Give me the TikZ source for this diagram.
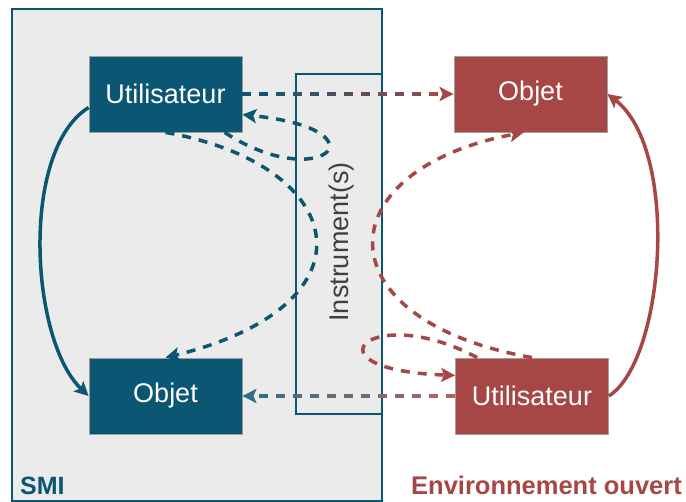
\documentclass[tikz,border=0pt]{standalone}
\usepackage{fontspec}
\setmainfont{Liberation Sans}
\usetikzlibrary{
    arrows.meta
}
\definecolor{smiteal}{HTML}{0B5673}
\definecolor{envred}{HTML}{A64645}
\definecolor{smigrey}{HTML}{EBEBEB}
\definecolor{labelgrey}{HTML}{404040}

\tikzset{
    smibox/.style={draw=gray!75, line width=0.8pt, fill=smiteal, text=white,
        minimum width=153pt, minimum height=76pt,
        font=\fontsize{27}{32}\selectfont},
    envbox/.style={smibox, fill=envred},
    frame/.style={draw=smiteal, line width=2.5pt},
    link/.style={line width=3.5pt, dash pattern=on 9pt off 8pt},
    loop/.style={line width=3.5pt}
}

\begin{document}
\begin{tikzpicture}[x=1pt, y=-1pt, >={Stealth[length=14pt, width=14pt, inset=3pt]}]

\useasboundingbox (0,0) rectangle (686,502);

% SMI frame
\draw[frame, fill=smigrey] (12,9) rectangle (382,501);
\node[anchor=base west, inner sep=0pt, text=smiteal,
      font=\bfseries\fontsize{25}{30}\selectfont] (smiLabel) at (20,495) {SMI};

% Instrument(s) frame
\draw[frame] (296,74) rectangle (382,414);
\node[rotate=90, text=labelgrey, font=\fontsize{27}{32}\selectfont]
      (instrLabel) at (342,242) {Instrument(s)};

% Open environment label
\node[anchor=base west, inner sep=0pt, text=envred,
      font=\bfseries\fontsize{25.5}{30}\selectfont] (envLabel) at (411,495) {Environnement ouvert};

% Boxes
\node[smibox] (userS) at (165.5,94) {Utilisateur};
\node[smibox] (objS) at (165.5,396) {Objet};
\node[envbox] (objE) at (530.5,94) {Objet};
\node[envbox] (userE) at (532,396) {Utilisateur};

% Solid loops
\draw[loop, smiteal, ->] (userS.190) .. controls (20,150) and (30,340) .. (objS.west);
\draw[loop, envred, ->] (userE.east) .. controls (665,360) and (680,150) .. (objE.east);

% Teal dashed links
\draw[link, smiteal, ->] (userS.-33) .. controls (320,195) and (390,130) .. (userS.-15);
\draw[link, smiteal, ->] (userS.south) .. controls (350,165) and (380,305) .. (objS.north);

% Red dashed links
\draw[link, envred, ->] (userE.145) .. controls (370,300) and (300,370) .. (userE.165);
\draw[link, envred, ->] (userE.north) .. controls (320,320) and (325,170) .. (objE.-100);

% Straight links, shaded from teal to red
\foreach \p [evaluate=\p as \pct using int(\p*100/7)] in {0,...,7} {
    \begin{scope}
        \clip (242+\p*27,78) rectangle ++(27,34);
        \draw[link, envred!\pct!smiteal, ->] (userS.east) -- (objE.west);
    \end{scope}
    \begin{scope}
        \clip (242+\p*27,380) rectangle ++(27,34);
        \draw[link, envred!\pct!smiteal!85!white, ->] (userE.west) -- (objS.east);
    \end{scope}
}

\end{tikzpicture}
\end{document}
